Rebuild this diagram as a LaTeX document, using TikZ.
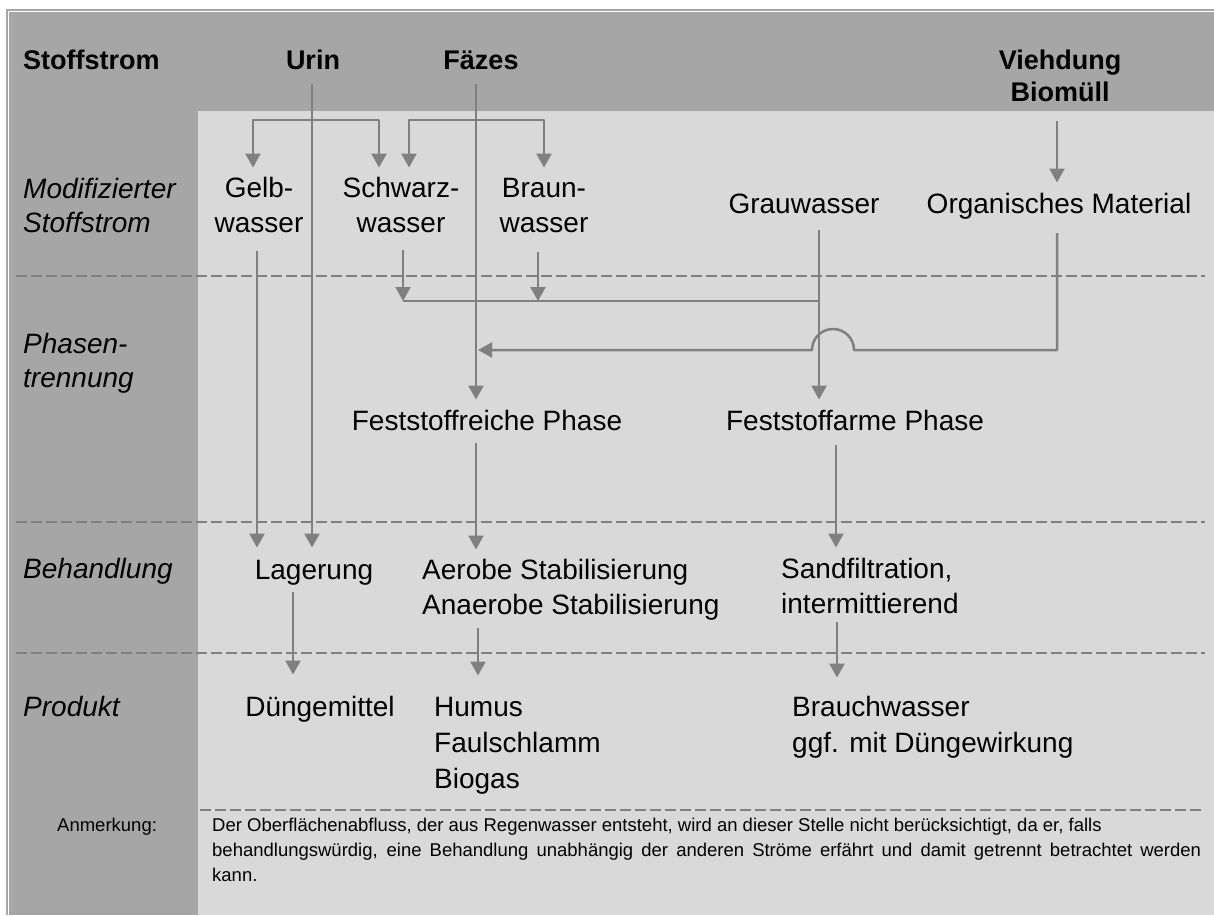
\documentclass[tikz,border=0pt]{standalone}
\usepackage{fontspec}
\setmainfont{Liberation Sans}
\usetikzlibrary{arrows.meta}
\definecolor{dunkel}{HTML}{A6A6A6}
\definecolor{hell}{HTML}{D9D9D9}
\definecolor{linie}{HTML}{808080}
\tikzset{
  txt/.style={inner sep=0pt, font=\fontsize{28}{35}\selectfont, align=center},
  kopf/.style={inner sep=0pt, font=\fontsize{27}{32}\selectfont\bfseries, align=center},
  zeile/.style={inner sep=0pt, anchor=base west, font=\fontsize{28}{34}\selectfont\itshape, align=left},
  flow/.style={draw=linie, line width=2.5pt},
  trenn/.style={draw=linie, line width=2.8pt, dash pattern=on 11pt off 4pt}
}
\begin{document}
\begin{tikzpicture}[x=1pt, y=-1pt, line join=round, >={Triangle[length=14pt,width=15pt]}]
	\useasboundingbox (0,0) rectangle (1214,915);
	\fill[white] (0,0) rectangle (1214,915);
	\fill[dunkel] (6,9) rectangle (1214,915);
	\fill[white] (8,11) rectangle (1214,915);
	\fill[dunkel] (9,12) rectangle (1214,915);
	\fill[hell] (198,111) rectangle (1214,915);
	\foreach \y in {276,522,653} \draw[trenn] (16,\y) -- (1205,\y);
	\draw[trenn] (200,810) -- (1205,810);
	% Kopfzeile
	\node[kopf, anchor=base west] (stoff) at (23,70) {Stoffstrom};
	\node[kopf, anchor=base] (urin) at (313,70) {Urin};
	\node[kopf, anchor=base] (faez) at (481,70) {Fäzes};
	\node[kopf, anchor=base] (vieh) at (1060,102) {Viehdung\\Biomüll};
	% Zeilen
	\node[zeile] (mod) at (23,232) {Modifizierter\\Stoffstrom};
	\node[zeile] (phas) at (23,387) {Phasen-\\trennung};
	\node[zeile] (beh) at (23,578) {Behandlung};
	\node[zeile] (prod) at (23,716) {Produkt};
	% modifizierte Stoffstroeme
	\node[txt, anchor=base] (gelb) at (259,232) {Gelb-\\wasser};
	\node[txt, anchor=base] (schw) at (401,232) {Schwarz-\\wasser};
	\node[txt, anchor=base] (braun) at (544,232) {Braun-\\wasser};
	\node[txt, anchor=base] (grau) at (804,213) {Grauwasser};
	\node[txt, anchor=base] (org) at (1059,213) {Organisches Material};
	\node[txt, anchor=base] (reich) at (487,430) {Feststoffreiche Phase};
	\node[txt, anchor=base] (arm) at (855,430) {Feststoffarme Phase};
	\node[txt, anchor=base] (lager) at (314,579) {Lagerung};
	\node[txt, anchor=base west, align=left] (stab) at (422,614) {Aerobe Stabilisierung\\Anaerobe Stabilisierung};
	\node[txt, anchor=base west, align=left] (sand) at (781,613) {Sandfiltration,\\intermittierend};
	\node[txt, anchor=base] (dung) at (320,716) {Düngemittel};
	\node[txt, anchor=base west, align=left, font=\fontsize{28}{36}\selectfont] (humus) at (434,788) {Humus\\Faulschlamm\\Biogas};
	\node[txt, anchor=base west, align=left, font=\fontsize{28}{36}\selectfont] (brauch) at (792,752) {Brauchwasser\\ggf. mit Düngewirkung};
	% Anmerkung
	\node[inner sep=0pt, anchor=base west, font=\fontsize{18.5}{25}\selectfont] (anm) at (57,831) {Anmerkung:};
	\node[inner sep=0pt, anchor=base west, align=left, font=\fontsize{18.5}{25}\selectfont] (note) at (212,881) {Der Oberflächenabfluss, der aus Regenwasser entsteht, wird an dieser Stelle nicht berücksichtigt, da er, falls\\\makebox[989pt][s]{behandlungswürdig, eine Behandlung unabhängig der anderen Ströme erfährt und damit getrennt betrachtet werden}\\kann.};
	% Verzweigungen
	\coordinate (ua) at (253,120); \coordinate (ub) at (379,120);
	\coordinate (fa) at (409,120); \coordinate (fb) at (544,120);
	\coordinate (sm) at (403,301); \coordinate (bm) at (538,301); \coordinate (gx) at (819,301);
	\coordinate (oc) at (1057,350); \coordinate (hop) at (854,350); \coordinate (fz) at (478,350);
	\draw[flow,<->,shorten <=9pt,shorten >=9pt] (ua |- gelb.north) -- (ua) -- (ub) -- (ub |- schw.north);
	\draw[flow,<->,shorten <=9pt,shorten >=10pt] (fa |- schw.north) -- (fa) -- (fb) -- (fb |- braun.north);
	\draw[flow,->] ([xshift=-1pt,yshift=-14pt]urin.south) -- ([xshift=-2pt,yshift=12pt]lager.north);
	\draw[flow,->] ([xshift=-5pt,yshift=-14pt]faez.south) -- ([xshift=-11pt,yshift=10pt]reich.north);
	\draw[flow,->] ([xshift=-3pt,yshift=-19pt]vieh.south) -- ([xshift=-2pt,yshift=10pt]org.north);
	\draw[flow,->] ([xshift=-2pt,yshift=-19pt]gelb.south) -- ([xshift=-57pt,yshift=12pt]lager.north);
	\draw[flow,->] ([xshift=2pt,yshift=-18pt]schw.south) -- (sm);
	\draw[flow,->] ([xshift=-6pt,yshift=-20pt]braun.south) -- (bm);
	\draw[flow] (sm) -- (gx);
	\draw[flow,->] ([xshift=15pt,yshift=-17pt]grau.south) -- ([xshift=-36pt,yshift=10pt]arm.north);
	\draw[flow,->] ([xshift=-2pt,yshift=-14pt]org.south) -- (oc) -- (hop) arc[start angle=0,end angle=-180,radius=21] -- (fz);
	% Behandlung und Produkt
	\draw[flow,->] ([xshift=-11pt,yshift=-13pt]reich.south) -- ([xshift=54pt,yshift=9pt]stab.north west);
	\draw[flow,->] ([xshift=-19pt,yshift=-15pt]arm.south) -- ([xshift=55pt,yshift=10pt]sand.north west);
	\draw[flow,->] ([xshift=-21pt,yshift=-7pt]lager.south) -- ([xshift=-27pt,yshift=21pt]dung.north);
	\draw[flow,->] ([xshift=56pt,yshift=-8pt]stab.south west) -- ([xshift=44pt,yshift=21pt]humus.north west);
	\draw[flow,->] ([xshift=56pt,yshift=-9pt]sand.south west) -- ([xshift=45pt,yshift=18pt]brauch.north west);
\end{tikzpicture}
\end{document}
